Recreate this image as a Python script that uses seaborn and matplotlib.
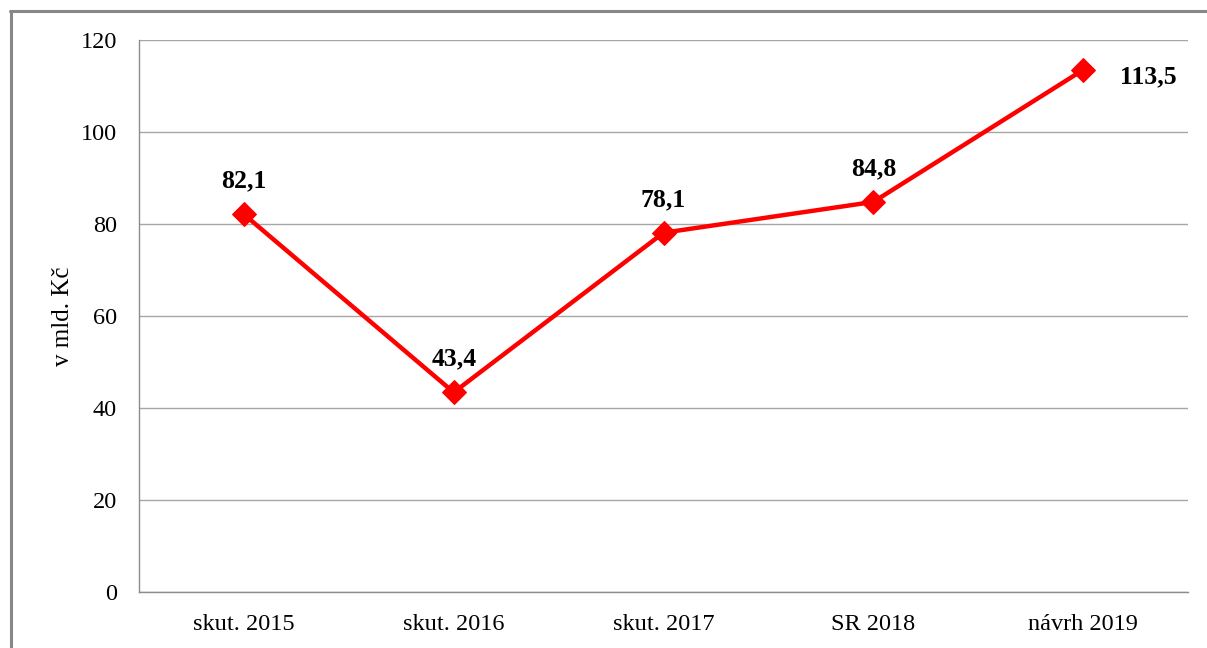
import matplotlib
matplotlib.use("Agg")
import matplotlib.pyplot as plt
import seaborn as sns
import pandas as pd
from matplotlib.lines import Line2D

categories = ["skut. 2015", "skut. 2016", "skut. 2017", "SR 2018", "návrh 2019"]
values = [82.1, 43.4, 78.1, 84.8, 113.5]
value_labels = ["82,1", "43,4", "78,1", "84,8", "113,5"]
y_ticks = [0, 20, 40, 60, 80, 100, 120]

sns.set_style("white")
plt.rcParams["font.family"] = ["Liberation Serif", "DejaVu Serif"]
plt.rcParams["text.color"] = "black"
plt.rcParams["xtick.labelcolor"] = "black"
plt.rcParams["ytick.labelcolor"] = "black"
plt.rcParams["axes.labelcolor"] = "black"

df = pd.DataFrame({"kat": categories, "hodnota": values})
df["pos"] = range(len(df))

fig = plt.figure(figsize=(12.07, 6.48), dpi=100)
ax = fig.add_axes([0.1152, 0.0864, 0.8691, 0.8519])

sns.lineplot(data=df, x="pos", y="hodnota", ax=ax, color="#ff0000", lw=3.2,
             marker="D", markersize=12.5, markeredgecolor="#ff0000", sort=False)

# data labels
for i, (v, lab) in enumerate(zip(values, value_labels)):
    if i == len(values) - 1:
        ax.annotate(lab, (i, v), xytext=(47, -5), textcoords="offset points",
                    ha="center", va="center", fontsize=18.5, fontweight="bold")
    else:
        ax.annotate(lab, (i, v), xytext=(0, 24), textcoords="offset points",
                    ha="center", va="center", fontsize=18.5, fontweight="bold")

ax.set_xlim(-0.5, len(categories) - 0.5)
ax.set_ylim(0, 120)
ax.set_yticks(y_ticks)
ax.set_yticklabels([str(t) for t in y_ticks], fontsize=17.5)
ax.set_xticks(range(len(categories)))
ax.set_xticklabels(categories, fontsize=17.5)
ax.tick_params(axis="x", length=0, pad=16)
ax.tick_params(axis="y", length=5, color="#8c8c8c", width=1, pad=11)
# tick marks between categories
ax.set_xticks([i - 0.5 for i in range(len(categories) + 1)], minor=True)
ax.tick_params(axis="x", which="minor", length=5, color="#8c8c8c", width=1)

ax.grid(axis="y", color="#a6a6a6", lw=1)
ax.set_axisbelow(True)
for side in ["top", "right"]:
    ax.spines[side].set_visible(False)
for side in ["left", "bottom"]:
    ax.spines[side].set_color("#8c8c8c")
    ax.spines[side].set_linewidth(1)

ax.set_xlabel("")
ax.set_ylabel("v mld. Kč", fontsize=18, labelpad=5)

# outer frame (top and left only visible in the reference)
fig.add_artist(Line2D([0.0083, 1.0], [0.983, 0.983], transform=fig.transFigure,
                      color="#878787", lw=2.2))
fig.add_artist(Line2D([0.0091, 0.0091], [0.0, 0.983], transform=fig.transFigure,
                      color="#878787", lw=2.2))

fig.savefig("out.png", dpi=100)
